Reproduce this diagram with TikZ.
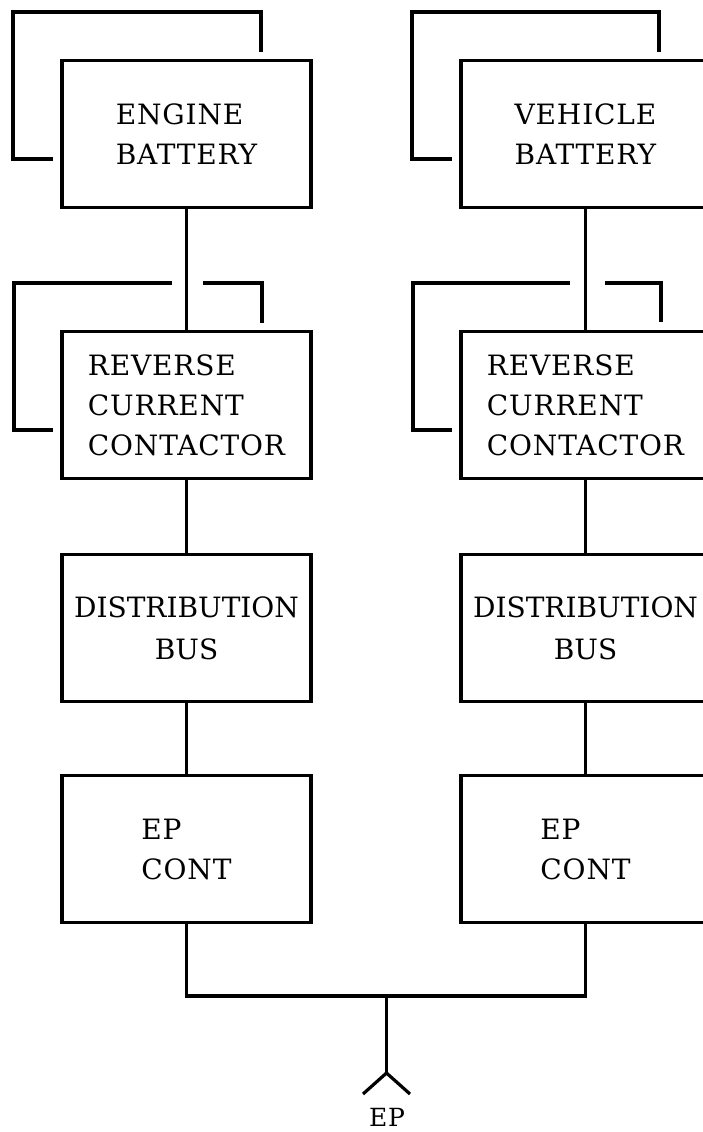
\documentclass[tikz,border=0pt]{standalone}
\usepackage{fontspec}
\setmainfont{DejaVu Serif}
\newfontfamily\wideserif[LetterSpace=3]{DejaVu Serif}
\begin{document}
\begin{tikzpicture}[x=1pt,y=-1pt,line width=3.2pt,
  blk/.style={draw, minimum width=249pt, minimum height=147pt, inner sep=0pt,
              font=\wideserif\fontsize{28}{40}\selectfont},
  bus/.style={blk, align=center, font=\rmfamily\fontsize{28}{42}\selectfont},
  lbl/.style={font=\wideserif\fontsize{25}{30}\selectfont, inner sep=0pt}]
\useasboundingbox (0,0) rectangle (703,1132);
\clip (0,0) rectangle (703,1132);
% left column
\node[blk, align=left] (eb)  at (186.5,134) {ENGINE\\BATTERY};
\node[blk, align=left] (rcA) at (186.5,405) {REVERSE\\CURRENT\\CONTACTOR};
\node[bus]             (dbA) at (186.5,628) {DISTRIBUTION\\BUS};
\node[blk, align=left] (epA) at (186.5,849) {EP\\CONT};
% right column
\node[blk, align=left] (vb)  at (585.5,134) {VEHICLE\\BATTERY};
\node[blk, align=left] (rcB) at (585.5,405) {REVERSE\\CURRENT\\CONTACTOR};
\node[bus]             (dbB) at (585.5,628) {DISTRIBUTION\\BUS};
\node[blk, align=left] (epB) at (585.5,849) {EP\\CONT};
% back outlines
\draw (53,159) -- (13,159) -- (13,12) -- (261,12) -- (261,52);
\draw (452,159) -- (412,159) -- (412,12) -- (659,12) -- (659,52);
\draw (53,430) -- (14,430) -- (14,283) -- (172,283);
\draw (203,283) -- (262,283) -- (262,323);
\draw (452,430) -- (413,430) -- (413,283) -- (570,283);
\draw (605,283) -- (661,283) -- (661,322);
% connectors
\draw (eb) -- (rcA);
\draw (rcA) -- (dbA);
\draw (dbA) -- (epA);
\draw (vb) -- (rcB);
\draw (rcB) -- (dbB);
\draw (dbB) -- (epB);
% output bus
\coordinate (hub) at (386.5,996);
\coordinate (tip) at (386.5,1073);
\coordinate (armL) at (363,1094);
\coordinate (armR) at (410,1094);
\draw (epA.south) -- (epA.south |- hub) -- (epB.south |- hub) -- (epB.south);
\draw (hub) -- (tip);
\draw (armL) -- (tip) -- (armR);
\node[lbl] (ep) at (387,1117) {EP};
\end{tikzpicture}
\end{document}
